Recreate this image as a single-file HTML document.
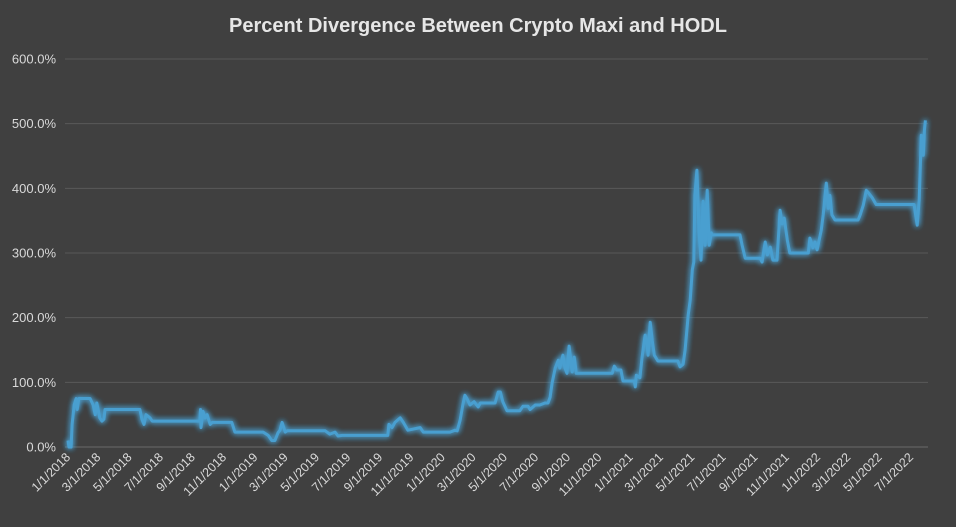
<!DOCTYPE html>
<html><head><meta charset="utf-8"><style>
html,body{margin:0;padding:0;background:#404040;}
svg{display:block;font-family:"Liberation Sans",sans-serif;}
</style></head><body>
<svg id="chart" width="956" height="527">
<rect width="956" height="527" fill="#404040"/>
<defs><filter id="glow" x="-5%" y="-10%" width="110%" height="120%"><feGaussianBlur stdDeviation="3" result="b"/><feMerge><feMergeNode in="b"/><feMergeNode in="b"/><feMergeNode in="SourceGraphic"/></feMerge></filter></defs>
<text x="478" y="32" text-anchor="middle" font-size="20" font-weight="bold" fill="#e6e6e6">Percent Divergence Between Crypto Maxi and HODL</text>
<g id="grid"></g><g id="yaxis"></g><g id="xaxis"></g><g id="series"></g>
</svg>
<script>
const days=[0,2,6,8,12,16,18,21,43,49,53,56,62,66,70,72,140,144,148,152,160,164,257,258,259,263,267,271,277,281,319,325,380,390,397,403,409,413,417,423,427,501,510,520,526,534,623,625,631,637,647,653,662,686,692,744,754,758,764,769,773,777,783,791,799,803,832,838,842,847,855,880,886,896,900,910,919,929,935,939,943,949,955,958,964,968,972,976,982,986,990,1060,1064,1069,1077,1081,1103,1105,1107,1114,1118,1124,1128,1130,1134,1138,1142,1149,1188,1192,1198,1202,1208,1212,1216,1219,1221,1225,1229,1233,1237,1241,1245,1249,1253,1254,1309,1313,1319,1348,1352,1358,1362,1368,1373,1381,1387,1391,1395,1401,1406,1442,1445,1451,1455,1459,1467,1471,1477,1481,1484,1488,1494,1539,1543,1549,1555,1558,1566,1574,1648,1654,1658,1662,1666,1668,1670];
const values=[10,0,0,35,65,75,58,75,75,65,50,68,45,40,43,58,58,43,35,50,45,40,40,58,30,55,45,50,35,38,38,23,23,18,10,10,22,26,38,23,25,25,20,23,17,18,18,35,30,38,45,38,26,30,23,23,26,25,42,65,80,75,65,70,62,68,68,85,85,70,56,56,63,63,58,65,65,68,68,77,99,122,134,122,142,122,114,156,116,139,114,114,125,119,119,102,102,93,111,107,138,173,158,142,193,165,142,133,133,124,128,150,204,227,274,286,389,428,335,289,380,312,397,312,331,328,328,312,292,292,286,317,297,309,289,289,366,345,354,320,300,300,323,308,317,305,335,359,408,369,389,359,351,351,359,374,397,394,386,375,375,343,382,482,451,490,505];
const yTicks=[0,100,200,300,400,500,600];
const x0=68,pxPerDay=0.5134,y0=447,pxPerPct=0.6467;
const X=d=>x0+d*pxPerDay, Y=v=>y0-v*pxPerPct;
const NS="http://www.w3.org/2000/svg";
function mk(tag,attrs,parent){const e=document.createElementNS(NS,tag);for(const k in attrs)e.setAttribute(k,attrs[k]);parent.appendChild(e);return e;}
const grid=document.getElementById('grid'),ya=document.getElementById('yaxis'),xa=document.getElementById('xaxis'),ser=document.getElementById('series');
yTicks.forEach(t=>{
  const l=mk('line',{x1:65,x2:928,y1:Y(t),y2:Y(t),stroke:t===0?'#6a6a6a':'#595959','stroke-width':1},grid);
  
  
  const tx=mk('text',{x:56,y:Y(t)+4.5,'text-anchor':'end','font-size':13,fill:'#d9d9d9'},ya);
  tx.textContent=t.toFixed(1)+'%';
  
  
});
const start=Date.UTC(2018,0,1);
for(let m=0;m<=54;m+=2){
  const yr=2018+Math.floor(m/12),mo=m%12;
  const d=(Date.UTC(yr,mo,1)-start)/86400000;
  const x=X(d);
  const tx=mk('text',{x:x+3,y:458,'text-anchor':'end','font-size':12.5,fill:'#d9d9d9',transform:`rotate(-45 ${x+3} 458)`},xa);
  tx.textContent=(mo+1)+'/1/'+yr;
  
  
}
const n=Math.min(days.length,values.length);
const pts=[];
for(let i=0;i<n;i++)pts.push(X(days[i]).toFixed(1)+','+Y(values[i]).toFixed(1));
const pl=mk('polyline',{points:pts.join(' '),fill:'none',stroke:'#4a9fd0','stroke-width':3,'stroke-linejoin':'round',filter:'url(#glow)'},ser);


</script>
</body></html>
